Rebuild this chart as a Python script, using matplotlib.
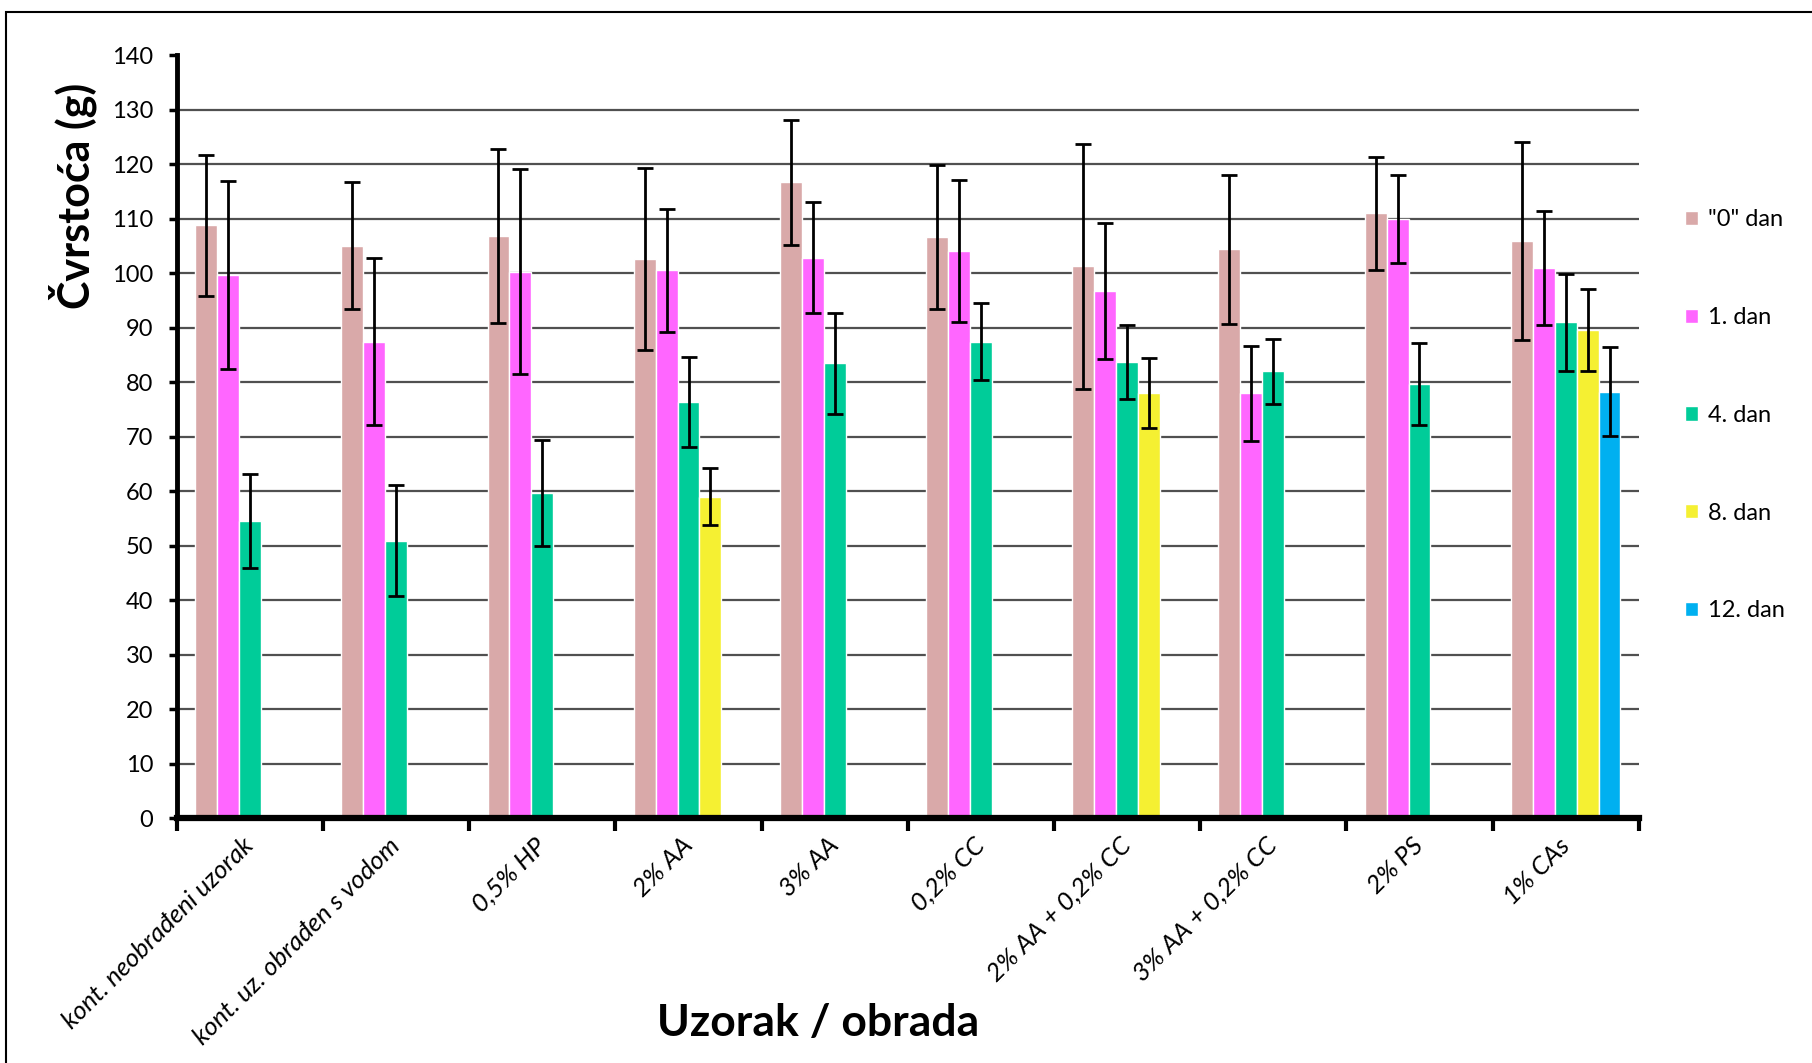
import numpy as np
import matplotlib
matplotlib.use('Agg')
import matplotlib.pyplot as plt
from matplotlib.patches import Rectangle

plt.rcParams['font.family'] = ['Lato', 'DejaVu Sans']

nan = np.nan

# samples / treatments
categories = ["kont. neobrađeni uzorak", "kont. uz. obrađen s vodom", "0,5% HP",
              "2% AA", "3% AA", "0,2% CC", "2% AA + 0,2% CC",
              "3% AA + 0,2% CC", "2% PS", "1% CAs"]

series_names = ['"0" dan', '1. dan', '4. dan', '8. dan', '12. dan']

dan0 = [108.8, 105.1, 106.9, 102.7, 116.7, 106.7, 101.3, 104.4, 111.0, 106.0]
dan0_err = [13.0, 11.6, 16.0, 16.7, 11.4, 13.2, 22.5, 13.6, 10.3, 18.2]
dan1 = [99.7, 87.5, 100.3, 100.6, 102.9, 104.1, 96.7, 78.0, 110.0, 101.0]
dan1_err = [17.3, 15.3, 18.8, 11.3, 10.2, 13.1, 12.5, 8.7, 8.1, 10.4]
dan4 = [54.6, 50.9, 59.7, 76.4, 83.5, 87.5, 83.7, 82.0, 79.7, 91.0]
dan4_err = [8.6, 10.2, 9.8, 8.2, 9.3, 7.1, 6.8, 6.0, 7.5, 8.9]
dan8 = [nan, nan, nan, 59.0, nan, nan, 78.0, nan, nan, 89.6]
dan8_err = [nan, nan, nan, 5.2, nan, nan, 6.4, nan, nan, 7.5]
dan12 = [nan, nan, nan, nan, nan, nan, nan, nan, nan, 78.3]
dan12_err = [nan, nan, nan, nan, nan, nan, nan, nan, nan, 8.1]

colors = ['#D9A9A9', '#FF66FF', '#00CC99', '#F5F032', '#00B0F0']

values = [dan0, dan1, dan4, dan8, dan12]
errors = [dan0_err, dan1_err, dan4_err, dan8_err, dan12_err]

fig = plt.figure(figsize=(18.12, 10.63), dpi=100)
ax = fig.add_axes([0.0976, 0.2303, 0.8068, 0.7175])

x = np.arange(len(categories))
w = 0.15
handles = []
for i, (vals, errs) in enumerate(zip(values, errors)):
    pos = x + (i - 2) * w
    b = ax.bar(pos, vals, width=w, color=colors[i], edgecolor='white',
               linewidth=1, zorder=2, label=series_names[i])
    ax.errorbar(pos, vals, yerr=errs, fmt='none', ecolor='black',
                elinewidth=2, capsize=6, capthick=2, zorder=3)
    handles.append(b)

ax.set_xlim(-0.5, len(categories) - 0.5)
ax.set_ylim(0, 140)
ax.set_yticks(np.arange(0, 141, 10))
ax.tick_params(axis='y', labelsize=17, width=2.5, length=6, pad=11)
ax.yaxis.grid(True, color='#505050', linewidth=1.6, zorder=0)
ax.set_axisbelow(True)
gl = ax.yaxis.get_gridlines()
gl[0].set_visible(False)
gl[-1].set_visible(False)

# boundaries between groups get the tick marks, centres get the labels
ax.set_xticks(np.arange(len(categories) + 1) - 0.5)
ax.set_xticklabels([])
ax.set_xticks(x, minor=True)
ax.set_xticklabels(categories, minor=True, rotation=45, ha='right',
                   va='center', rotation_mode='anchor', fontsize=18.5,
                   fontstyle='italic')
ax.tick_params(axis='x', which='major', width=3, length=9)
ax.tick_params(axis='x', which='minor', length=0, pad=17)

for s in ['top', 'right']:
    ax.spines[s].set_visible(False)
ax.spines['left'].set_linewidth(3.5)
ax.spines['bottom'].set_linewidth(4.5)

fig.text(0.040, 0.816, 'Čvrstoća (g)', rotation=90, ha='center', va='center',
         fontsize=31, fontweight='bold')
fig.text(0.4515, 0.0376, 'Uzorak / obrada', ha='center', va='center',
         fontsize=32, fontweight='bold')

fig.legend(handles=handles, labels=series_names, loc='upper left',
           bbox_to_anchor=(0.918, 0.823), frameon=False, fontsize=17,
           handlelength=0.55, handleheight=0.55, handletextpad=0.45,
           labelspacing=3.25)

fig.add_artist(Rectangle((0.0035, -0.01), 1.0, 1.0 - 0.0113 + 0.01,
                         transform=fig.transFigure, fill=False,
                         edgecolor='black', linewidth=1.5))

fig.savefig('out.png', dpi=100)
